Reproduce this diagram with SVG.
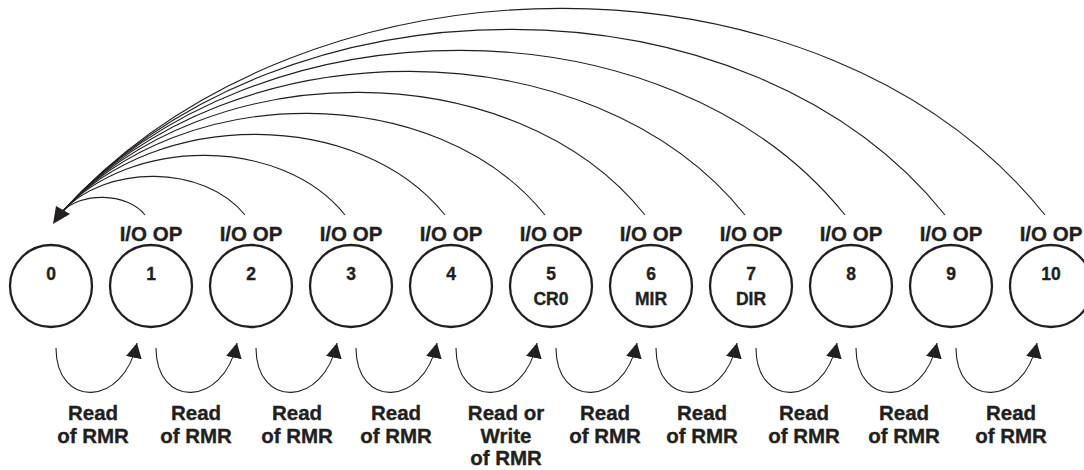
<svg xmlns="http://www.w3.org/2000/svg" width="1084" height="470" viewBox="0 0 1084 470">
<style>
.node circle{fill:#fff;stroke:#231f20;stroke-width:2.3}
text{font-family:"Liberation Sans",Arial,sans-serif;font-weight:bold;fill:#231f20;text-anchor:middle;stroke:#231f20;stroke-width:0.35}
.op{font-size:20.5px}
.num{font-size:17.5px}
.lbl{font-size:20.5px}
.arc{fill:none;stroke:#231f20;stroke-width:1.1}
.head{fill:#231f20}
</style>
<defs>
<marker id="ah" markerUnits="userSpaceOnUse" markerWidth="18" markerHeight="18" refX="15" refY="8" orient="auto">
<path d="M0,0 L15,8 L0,16 z" fill="#231f20"/>
</marker>
</defs>
<g id="n0" class="node"><circle cx="51" cy="286" r="41"/><text class="num" x="51" y="280">0</text></g>
<g id="n1" class="node"><text class="op" x="151" y="241">I/O OP</text><circle cx="151" cy="286" r="41"/><text class="num" x="151" y="280">1</text></g>
<g id="n2" class="node"><text class="op" x="251" y="241">I/O OP</text><circle cx="251" cy="286" r="41"/><text class="num" x="251" y="280">2</text></g>
<g id="n3" class="node"><text class="op" x="351" y="241">I/O OP</text><circle cx="351" cy="286" r="41"/><text class="num" x="351" y="280">3</text></g>
<g id="n4" class="node"><text class="op" x="451" y="241">I/O OP</text><circle cx="451" cy="286" r="41"/><text class="num" x="451" y="280">4</text></g>
<g id="n5" class="node"><text class="op" x="551" y="241">I/O OP</text><circle cx="551" cy="286" r="41"/><text class="num" x="551" y="280">5</text><text class="num" x="551" y="305">CR0</text></g>
<g id="n6" class="node"><text class="op" x="651" y="241">I/O OP</text><circle cx="651" cy="286" r="41"/><text class="num" x="651" y="280">6</text><text class="num" x="651" y="305">MIR</text></g>
<g id="n7" class="node"><text class="op" x="751" y="241">I/O OP</text><circle cx="751" cy="286" r="41"/><text class="num" x="751" y="280">7</text><text class="num" x="751" y="305">DIR</text></g>
<g id="n8" class="node"><text class="op" x="851" y="241">I/O OP</text><circle cx="851" cy="286" r="41"/><text class="num" x="851" y="280">8</text></g>
<g id="n9" class="node"><text class="op" x="951" y="241">I/O OP</text><circle cx="951" cy="286" r="41"/><text class="num" x="951" y="280">9</text></g>
<g id="n10" class="node"><text class="op" x="1051" y="241">I/O OP</text><circle cx="1051" cy="286" r="41"/><text class="num" x="1051" y="280">10</text></g>
<g id="connectors">
<path class="arc" d="M145,215 C127,192 80,192 62,212"/>
<path class="arc" d="M245,215 C204,164 105,164 62,212"/>
<path class="arc" d="M345,215 C282,136 130,136 62,212"/>
<path class="arc" d="M445,215 C359,108 156,108 62,212"/>
<path class="arc" d="M545,215 C437,80 181,80 62,212"/>
<path class="arc" d="M645,215 C515,52 206,52 62,212"/>
<path class="arc" d="M745,215 C592,24 231,24 62,212"/>
<path class="arc" d="M845,215 C670,-4 256,-4 62,212"/>
<path class="arc" d="M945,215 C747,-32 282,-32 62,212"/>
<path class="arc" d="M1045,215 C825,-60 307,-60 62,212"/>
<polygon class="head" points="53,224 56,206 70,214"/>
<path class="arc" marker-end="url(#ah)" d="M56,348 C56,408 123,408 137,343"/>
<path class="arc" marker-end="url(#ah)" d="M156,348 C156,408 223,408 237,343"/>
<path class="arc" marker-end="url(#ah)" d="M256,348 C256,408 323,408 337,343"/>
<path class="arc" marker-end="url(#ah)" d="M356,348 C356,408 423,408 437,343"/>
<path class="arc" marker-end="url(#ah)" d="M456,348 C456,408 523,408 537,343"/>
<path class="arc" marker-end="url(#ah)" d="M556,348 C556,408 623,408 637,343"/>
<path class="arc" marker-end="url(#ah)" d="M656,348 C656,408 723,408 737,343"/>
<path class="arc" marker-end="url(#ah)" d="M756,348 C756,408 823,408 837,343"/>
<path class="arc" marker-end="url(#ah)" d="M856,348 C856,408 923,408 937,343"/>
<path class="arc" marker-end="url(#ah)" d="M956,348 C956,408 1023,408 1037,343"/>
</g>
<g id="labels">
<text class="lbl" x="93" y="420">Read</text><text class="lbl" x="93" y="443">of RMR</text>
<text class="lbl" x="196" y="420">Read</text><text class="lbl" x="196" y="443">of RMR</text>
<text class="lbl" x="297" y="420">Read</text><text class="lbl" x="297" y="443">of RMR</text>
<text class="lbl" x="396" y="420">Read</text><text class="lbl" x="396" y="443">of RMR</text>
<text class="lbl" x="506" y="420">Read or</text><text class="lbl" x="506" y="443">Write</text><text class="lbl" x="506" y="465">of RMR</text>
<text class="lbl" x="605" y="420">Read</text><text class="lbl" x="605" y="443">of RMR</text>
<text class="lbl" x="702" y="420">Read</text><text class="lbl" x="702" y="443">of RMR</text>
<text class="lbl" x="804" y="420">Read</text><text class="lbl" x="804" y="443">of RMR</text>
<text class="lbl" x="904" y="420">Read</text><text class="lbl" x="904" y="443">of RMR</text>
<text class="lbl" x="1011" y="420">Read</text><text class="lbl" x="1011" y="443">of RMR</text>
</g>
</svg>
